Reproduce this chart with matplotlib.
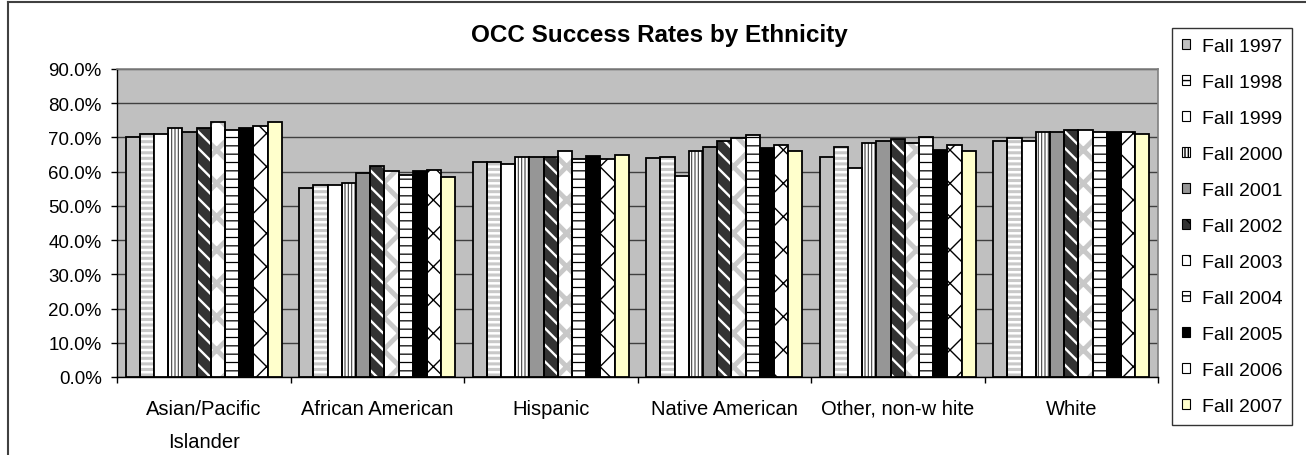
import matplotlib
matplotlib.use("Agg")
import matplotlib.pyplot as plt
import matplotlib.patches as mpatches
from matplotlib.lines import Line2D
import numpy as np

plt.rcParams['font.family'] = ['Liberation Sans', 'DejaVu Sans']

categories = ["Asian/Pacific\nIslander", "African American", "Hispanic",
              "Native American", "Other, non-w hite", "White"]
years = ["Fall 1997", "Fall 1998", "Fall 1999", "Fall 2000", "Fall 2001", "Fall 2002",
         "Fall 2003", "Fall 2004", "Fall 2005", "Fall 2006", "Fall 2007"]

# values per year, one per category (percent)
fall_1997 = [70.0, 55.2, 62.8, 63.9, 64.4, 68.9]
fall_1998 = [71.1, 56.1, 62.8, 64.4, 67.2, 69.9]
fall_1999 = [71.1, 56.1, 62.1, 58.7, 61.0, 68.9]
fall_2000 = [72.7, 56.7, 64.4, 66.1, 68.4, 71.6]
fall_2001 = [71.7, 59.5, 64.4, 67.2, 68.9, 71.6]
fall_2002 = [72.7, 61.7, 64.4, 68.9, 69.4, 72.1]
fall_2003 = [74.4, 60.1, 66.1, 69.9, 68.4, 72.1]
fall_2004 = [72.1, 58.9, 63.8, 70.6, 70.2, 71.5]
fall_2005 = [72.9, 60.2, 64.5, 66.8, 66.3, 71.6]
fall_2006 = [73.3, 60.6, 63.8, 67.8, 67.8, 71.6]
fall_2007 = [74.4, 58.3, 64.9, 66.1, 66.0, 71.0]
series = [fall_1997, fall_1998, fall_1999, fall_2000, fall_2001, fall_2002,
          fall_2003, fall_2004, fall_2005, fall_2006, fall_2007]

# style: (facecolor, hatch, hatchcolor, hatch linewidth)
styles = [
    ("#C0C0C0", None, None, 1.0),
    ("#FFFFFF", "---", "#C8C8C8", 2.2),
    ("#FFFFFF", None, None, 1.0),
    ("#FFFFFF", "|||||", "#404040", 0.8),
    ("#969696", None, None, 1.0),
    ("#333333", "\\\\", "#FFFFFF", 1.7),
    ("#FFFFFF", "x", "#C8C8C8", 3.5),
    ("#FFFFFF", "--", "#000000", 0.9),
    ("#000000", None, None, 1.0),
    ("#FFFFFF", "x", "#000000", 1.0),
    ("#FFFFCC", None, None, 1.0),
]

W, H = 1306, 456
fig = plt.figure(figsize=(W / 100, H / 100), dpi=100)
ax = fig.add_axes([117 / W, 1 - 378 / H, (1158 - 117) / W, (378 - 70) / H])
ax.set_facecolor("#C0C0C0")

n = len(series)
group_w = 0.9
bw = group_w / n
x = np.arange(len(categories))

legend_handles = []
for i, (vals, (fc, hatch, hc, hlw)) in enumerate(zip(series, styles)):
    pos = x - group_w / 2 + bw * (i + 0.5)
    if hatch:
        with plt.rc_context({'hatch.linewidth': hlw}):
            bars = ax.bar(pos, vals, width=bw, facecolor=fc, edgecolor=hc,
                          hatch=hatch, linewidth=0, zorder=3)
        for b in bars:
            try:
                b.set_hatch_linewidth(hlw)
            except AttributeError:
                pass
    ax.bar(pos, vals, width=bw, facecolor=(fc if not hatch else "none"),
           edgecolor="black", linewidth=1.3, zorder=4)
    legend_handles.append(mpatches.Patch(facecolor=fc, edgecolor="black",
                                         hatch=hatch, linewidth=0.8, label=years[i]))

ax.set_xlim(-0.5, len(categories) - 0.5)
ax.set_ylim(0, 90)
ax.set_yticks(np.arange(0, 91, 10))
ax.set_yticklabels([f"{v:.1f}%" for v in np.arange(0, 91, 10)], fontsize=13.5)
ax.yaxis.grid(True, color="#404040", linewidth=1.0, zorder=0)
ax.set_axisbelow(True)

ax.set_xticks(x)
ax.set_xticklabels(categories, fontsize=14.5, va="top", linespacing=1.98)
ax.tick_params(axis="x", which="major", length=0, pad=15.5)
ax.set_xticks(np.arange(-0.5, len(categories), 1.0), minor=True)
ax.tick_params(axis="x", which="minor", length=4, width=1, color="black", direction="out")
ax.tick_params(axis="y", length=4, width=1, direction="out", pad=7)

for s in ["left", "bottom"]:
    ax.spines[s].set_color("black")
    ax.spines[s].set_linewidth(1.0)
for s in ["top", "right"]:
    ax.spines[s].set_color("#808080")
    ax.spines[s].set_linewidth(1.2)

fig.text(0.505, 1 - 35.4 / H, "OCC Success Rates by Ethnicity", ha="center", va="center",
         fontsize=17.5, fontweight="bold")

leg = fig.legend(handles=legend_handles, loc="upper left",
                 bbox_to_anchor=(1172 / W, 1 - 29 / H), fontsize=14, frameon=True,
                 fancybox=False, edgecolor="black", handlelength=0.42,
                 handleheight=0.42, handletextpad=0.6, labelspacing=0.98,
                 borderpad=0.5, borderaxespad=0.0)
leg.get_frame().set_linewidth(1.0)

# outer chart frame (left and top edges only; the rest is cropped in the reference)
for xs, ys in [((7.5 / W, 7.5 / W), (0.0, 1 - 2.5 / H)),
               ((7.5 / W, 1.0), (1 - 2.5 / H, 1 - 2.5 / H))]:
    fig.add_artist(Line2D(xs, ys, transform=fig.transFigure, color="#404040", linewidth=1.5))

fig.savefig("out.png", dpi=100)
